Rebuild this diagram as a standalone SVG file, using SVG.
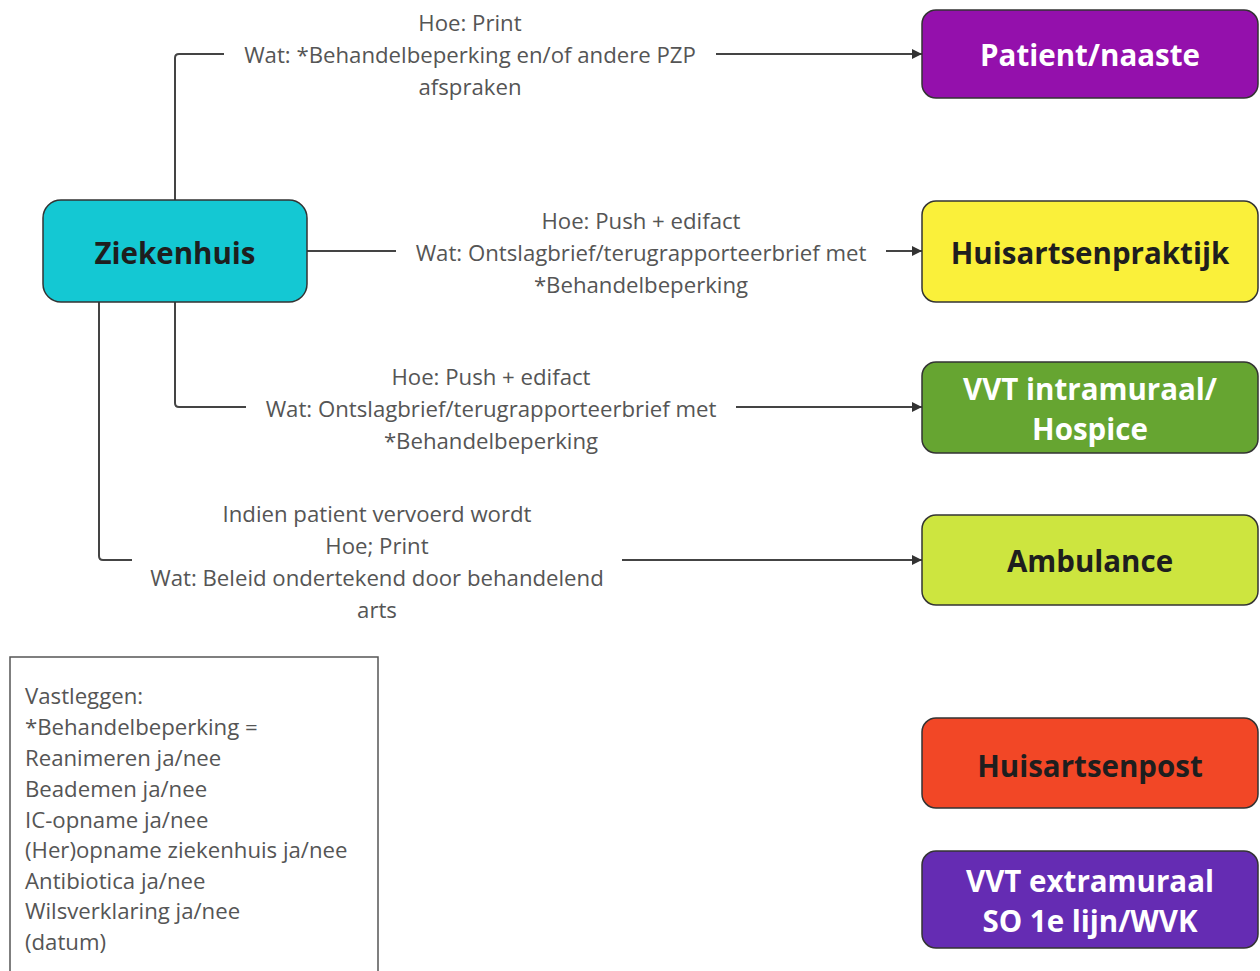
<svg xmlns="http://www.w3.org/2000/svg" width="1260" height="971" viewBox="0 0 1260 971">
<defs>
<marker id="arr" viewBox="0 0 10 10" refX="10" refY="5" markerWidth="10" markerHeight="10" markerUnits="userSpaceOnUse" orient="auto">
<path d="M0,0 L10,5 L0,10 z" fill="#333"/>
</marker>
<style>
.node{stroke:#333;stroke-width:1.5}
.nl{font-family:"Open Sans","Noto Sans",sans-serif;font-weight:bold;font-size:29.5px;text-anchor:middle;dominant-baseline:central}
.dark{fill:#1e1e1e}
.light{fill:#ffffff}
.lbl{font-family:"Open Sans","Noto Sans",sans-serif;font-size:22.2px;fill:#555;text-anchor:middle;dominant-baseline:central}
.leg{font-family:"Open Sans","Noto Sans",sans-serif;font-size:22.2px;fill:#555;dominant-baseline:central}
.c{fill:none;stroke:#444;stroke-width:2}
</style>
</defs>
<rect width="1260" height="971" fill="#fff"/>
<g id="connectors">
<path class="c" d="M175,200 V58 Q175,54 179,54 H224"/>
<path class="c" d="M716,54 H922" marker-end="url(#arr)"/>
<path class="c" d="M307,251 H396"/>
<path class="c" d="M886,251 H922" marker-end="url(#arr)"/>
<path class="c" d="M175,302 V403 Q175,407 179,407 H246"/>
<path class="c" d="M736,407 H922" marker-end="url(#arr)"/>
<path class="c" d="M99,302 V556 Q99,560 103,560 H132"/>
<path class="c" d="M622,560 H922" marker-end="url(#arr)"/>
</g>
<g id="labels">
<text class="lbl" x="470" y="22">Hoe: Print</text>
<text class="lbl" x="470" y="54">Wat: *Behandelbeperking en/of andere PZP</text>
<text class="lbl" x="470" y="86">afspraken</text>
<text class="lbl" x="641" y="220">Hoe: Push + edifact</text>
<text class="lbl" x="641" y="252">Wat: Ontslagbrief/terugrapporteerbrief met</text>
<text class="lbl" x="641" y="284">*Behandelbeperking</text>
<text class="lbl" x="491" y="376">Hoe: Push + edifact</text>
<text class="lbl" x="491" y="408">Wat: Ontslagbrief/terugrapporteerbrief met</text>
<text class="lbl" x="491" y="440">*Behandelbeperking</text>
<text class="lbl" x="377" y="513">Indien patient vervoerd wordt</text>
<text class="lbl" x="377" y="545">Hoe; Print</text>
<text class="lbl" x="377" y="577">Wat: Beleid ondertekend door behandelend</text>
<text class="lbl" x="377" y="609">arts</text>
</g>
<g id="ziekenhuis">
<rect class="node" x="43" y="200" width="264" height="102" rx="18" fill="#14C8D3"/>
<text class="nl dark" x="175" y="252">Ziekenhuis</text>
</g>
<g id="patient">
<rect class="node" x="922" y="10" width="336" height="88" rx="14" fill="#9410AC"/>
<text class="nl light" x="1090" y="54">Patient/naaste</text>
</g>
<g id="huisartsenpraktijk">
<rect class="node" x="922" y="201" width="336" height="101" rx="14" fill="#FAF03A"/>
<text class="nl dark" x="1090" y="252">Huisartsenpraktijk</text>
</g>
<g id="vvt-intramuraal">
<rect class="node" x="922" y="362" width="336" height="91" rx="14" fill="#66A531"/>
<text class="nl light" x="1090" y="388">VVT intramuraal/</text>
<text class="nl light" x="1090" y="428">Hospice</text>
</g>
<g id="ambulance">
<rect class="node" x="922" y="515" width="336" height="90" rx="14" fill="#CDE53F"/>
<text class="nl dark" x="1090" y="560">Ambulance</text>
</g>
<g id="huisartsenpost">
<rect class="node" x="922" y="718" width="336" height="90" rx="14" fill="#F24726"/>
<text class="nl dark" x="1090" y="765">Huisartsenpost</text>
</g>
<g id="vvt-extramuraal">
<rect class="node" x="922" y="851" width="336" height="97" rx="14" fill="#652CB3"/>
<text class="nl light" x="1090" y="880">VVT extramuraal</text>
<text class="nl light" x="1090" y="920">SO 1e lijn/WVK</text>
</g>
<g id="legend">
<path d="M10,975 V657 H378 V975" fill="#fff" stroke="#555" stroke-width="1.5"/>
<text class="leg" x="25" y="695">Vastleggen:</text>
<text class="leg" x="25" y="726">*Behandelbeperking =</text>
<text class="leg" x="25" y="757">Reanimeren ja/nee</text>
<text class="leg" x="25" y="788">Beademen ja/nee</text>
<text class="leg" x="25" y="819">IC-opname ja/nee</text>
<text class="leg" x="25" y="849">(Her)opname ziekenhuis ja/nee</text>
<text class="leg" x="25" y="880">Antibiotica ja/nee</text>
<text class="leg" x="25" y="910">Wilsverklaring ja/nee</text>
<text class="leg" x="25" y="941">(datum)</text>
</g>
</svg>
